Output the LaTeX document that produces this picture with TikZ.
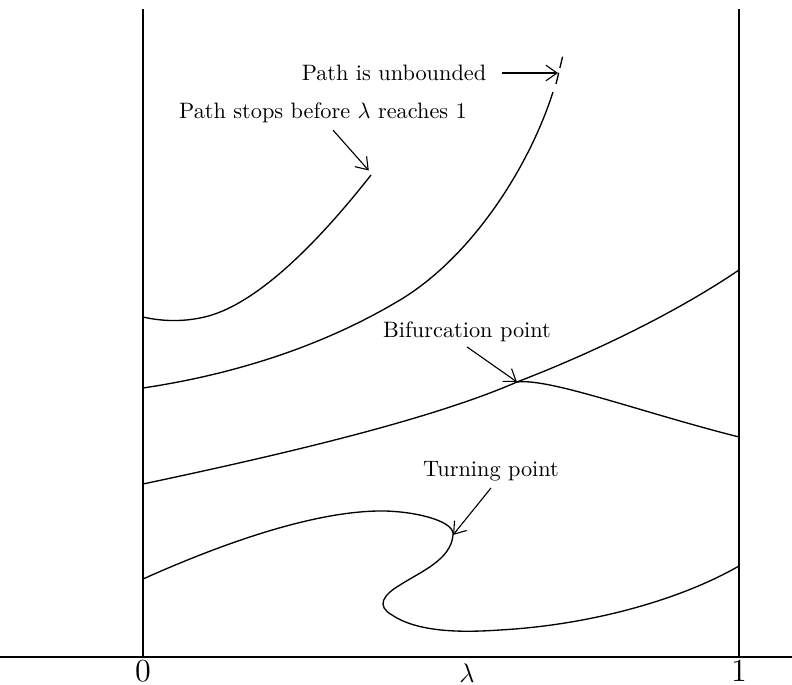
\documentclass[tikz,border=0pt]{standalone}
\usepackage{amsmath,amssymb}
\usepackage{tikz}
\usetikzlibrary{arrows.meta}

\begin{document}
\begin{tikzpicture}[
	x=0.01576cm,
	y=-0.01576cm,
	% Axis and boundary lines
	axis line/.style={
		draw=black,
		line width=0.55pt
	},
	% Solution path style
	path curve/.style={
		draw=black,
		line width=0.6pt
	},
	% Annotation text
	note/.style={
		font=\normalsize,
		inner sep=1pt
	},
	% Annotation arrow
	pointer/.style={
		draw=black,
		line width=0.5pt,
		-{Straight Barb[length=5pt,width=7pt]}
	},
	% Tick labels
	tick label/.style={
		anchor=north,
		inner sep=0pt,
		font=\Large
	}
	]
	
	\useasboundingbox (0,0) rectangle (792,685);
	
	% ================= AXES =================
	\coordinate (axL) at (0,657);
	\coordinate (axR) at (792,657);
	\coordinate (zeroTop) at (143,9);
	\coordinate (zeroBot) at (143,657);
	\coordinate (oneTop) at (739,9);
	\coordinate (oneBot) at (739,657);
	
	\draw[axis line] (axL) -- (axR);
	\draw[axis line] (zeroTop) -- (zeroBot);
	\draw[axis line] (oneTop) -- (oneBot);
	
	\node[tick label] (zero) at (143,660) {$0$};
	\node[tick label, font=\large] (lam) at (467,663) {$\lambda$};
	\node[tick label] (one) at (739,660) {$1$};
	
	% ================= PATHS =================
	% path that stops early
	\coordinate (stopEnd) at (371,175);
	\draw[path curve] (143,317) .. controls (160,321) and (180,322) .. (200,318)
		.. controls (255,308) and (320,240) .. (stopEnd);
	
	% unbounded path
	\draw[path curve] (143,388) .. controls (230,375) and (320,348) .. (400,300)
		.. controls (470,258) and (528,170) .. (553,92);
	\draw[path curve, dash pattern=on 5.2pt off 2.2pt] (556,84) -- (563,55);
	
	% path with bifurcation
	\coordinate (bif) at (517,382);
	\draw[path curve] (143,484) .. controls (280,455) and (430,420) .. (bif)
		.. controls (600,350) and (680,310) .. (739,270);
	\draw[path curve] (bif) .. controls (550,378) and (640,412) .. (739,437);
	
	% path with turning points
	\coordinate (turn) at (453,535);
	\draw[path curve] (143,579) .. controls (230,540) and (320,510) .. (385,511)
		.. controls (420,512) and (455,522) .. (turn)
		.. controls (451,560) and (420,572) .. (400,585)
		.. controls (383,595) and (376,606) .. (392,615)
		.. controls (420,634) and (470,632) .. (500,630)
		.. controls (590,625) and (680,600) .. (739,566);
	
	% ================= LABELS =================
	\coordinate (unbEnd) at (558,73);
	
	\node[note] (unbounded) at (394,73) {Path is unbounded};
	\node[note] (stops) at (323,113) {Path stops before $\lambda$ reaches 1};
	\node[note] (bifText) at (467,332) {Bifurcation point};
	\node[note] (turnText) at (491,471) {Turning point};
	
	\draw[pointer] ([xshift=6pt]unbounded.east) -- (unbEnd);
	\draw[pointer] ([xshift=4.5pt,yshift=-2pt]stops.south) -- ([xshift=-1pt,yshift=2pt]stopEnd);
	\draw[pointer] ([yshift=-1pt]bifText.south) -- (bif);
	\draw[pointer] ([yshift=-2pt]turnText.south) -- (turn);
	
\end{tikzpicture}
\end{document}
